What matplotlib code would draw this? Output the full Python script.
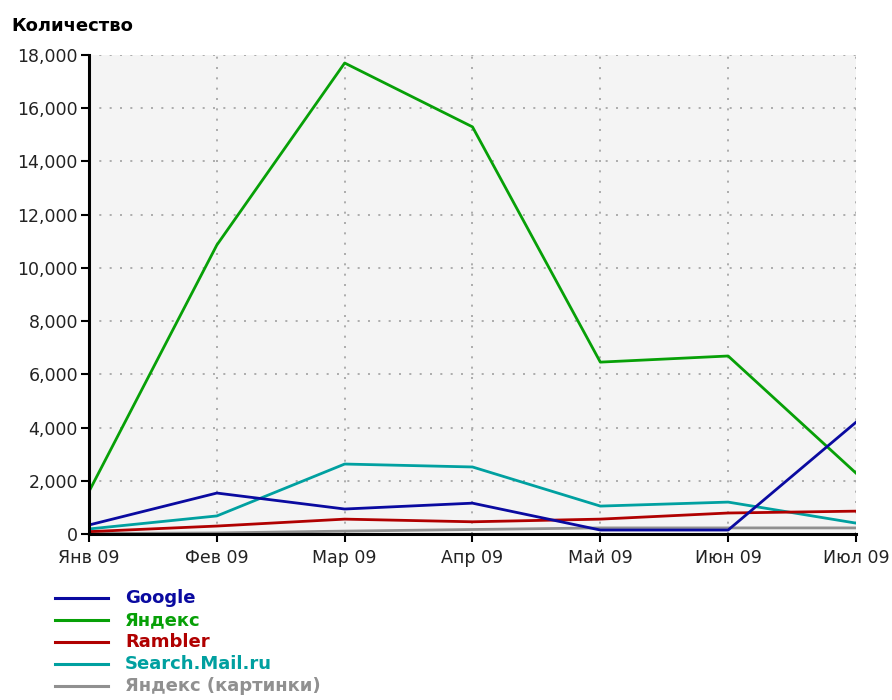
import matplotlib
matplotlib.use("Agg")
import matplotlib.pyplot as plt
from matplotlib.ticker import FuncFormatter
from matplotlib.lines import Line2D

months = ['Янв 09', 'Фев 09', 'Мар 09', 'Апр 09', 'Май 09', 'Июн 09', 'Июл 09']

google = [340, 1540, 940, 1160, 150, 150, 4200]
yandex = [1600, 10860, 17700, 15300, 6460, 6690, 2290]
rambler = [90, 300, 560, 460, 560, 790, 860]
mail = [190, 680, 2630, 2520, 1050, 1200, 410]
yandex_img = [20, 40, 110, 170, 230, 230, 230]

series = [
    ('Google', google, '#0a0aa0'),
    ('Яндекс', yandex, '#07a007'),
    ('Rambler', rambler, '#b00000'),
    ('Search.Mail.ru', mail, '#00a0a0'),
    ('Яндекс (картинки)', yandex_img, '#909090'),
]

plt.rcParams['font.family'] = ['DejaVu Sans']

fig = plt.figure(figsize=(8.92, 7.0), dpi=100)
ax = fig.add_axes([0.0998, 0.2371, 0.8598, 0.6843])
ax.set_facecolor('#f4f4f4')

x = list(range(len(months)))
# gray first so the others sit on top
for name, vals, col in reversed(series):
    ax.plot(x, vals, color=col, linewidth=2)

ax.set_xlim(0, len(months) - 1)
ax.set_ylim(0, 18000)
ax.set_yticks(range(0, 18001, 2000))
ax.yaxis.set_major_formatter(FuncFormatter(lambda v, p: f'{int(v):,}'))
ax.set_xticks(x)
ax.set_xticklabels(months)

ax.grid(True, color='#a0a0a0', linestyle=(0, (1.2, 5)), linewidth=1.2)
for s in ['top', 'right']:
    ax.spines[s].set_visible(False)
for s in ['left', 'bottom']:
    ax.spines[s].set_linewidth(2.2)
    ax.spines[s].set_color('black')
ax.tick_params(axis='both', direction='out', length=6, width=1.5,
               labelsize=12.5, colors='black', labelcolor='#222222')
ax.tick_params(axis='x', pad=5)
ax.tick_params(axis='y', pad=2)

fig.text(0.013, 0.963, 'Количество', fontsize=13, fontweight='bold', va='center')

# legend below the plot
y0 = 0.146
for i, (name, vals, col) in enumerate(series):
    yy = y0 - i * 0.0315
    fig.add_artist(Line2D([0.062, 0.121], [yy, yy], color=col, linewidth=2.2))
    fig.text(0.14, yy, name, color=col, fontsize=13, fontweight='bold', va='center')

fig.savefig('out.png', dpi=100)
